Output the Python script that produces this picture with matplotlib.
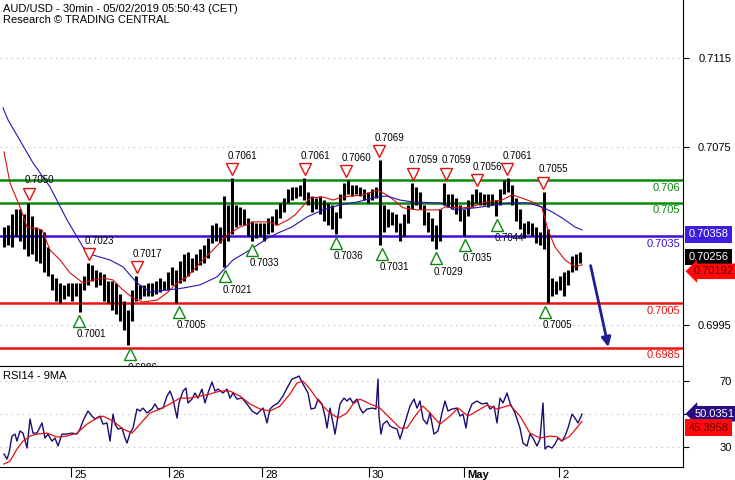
import matplotlib
matplotlib.use('Agg')
import matplotlib.pyplot as plt
import matplotlib.transforms as mtransforms
import numpy as np

plt.rcParams['font.family'] = ['Liberation Sans', 'DejaVu Sans']

# --- price bars (one bar drawn every hour, x in half-hour bar units)
bar_high = [
    0.7039, 0.7040, 0.7045, 0.7047, 0.7047, 0.7045, 0.7050, 0.7044, 0.7039, 0.7038,
    0.7037, 0.7030, 0.7018, 0.7016, 0.7014, 0.7013, 0.7014, 0.7014, 0.7014, 0.7014,
    0.7017, 0.7023, 0.7022, 0.7020, 0.7019, 0.7018, 0.7015, 0.7015, 0.7014, 0.7009,
    0.7006, 0.7002, 0.7011, 0.7017, 0.7013, 0.7013, 0.7014, 0.7014, 0.7015, 0.7016,
    0.7015, 0.7019, 0.7021, 0.7020, 0.7024, 0.7027, 0.7028, 0.7025, 0.7027, 0.7029,
    0.7031, 0.7034, 0.7040, 0.7041, 0.7039, 0.7053, 0.7049, 0.7061, 0.7049, 0.7048,
    0.7047, 0.7043, 0.7042, 0.7041, 0.7041, 0.7041, 0.7043, 0.7044, 0.7047, 0.7050,
    0.7052, 0.7056, 0.7057, 0.7057, 0.7058, 0.7061, 0.7055, 0.7053, 0.7052, 0.7053,
    0.7051, 0.7050, 0.7049, 0.7046, 0.7054, 0.7059, 0.7060, 0.7058, 0.7058, 0.7057,
    0.7056, 0.7055, 0.7056, 0.7057, 0.7069, 0.7049, 0.7047, 0.7046, 0.7045, 0.7041,
    0.7045, 0.7049, 0.7059, 0.7057, 0.7055, 0.7049, 0.7046, 0.7043, 0.7040, 0.7047,
    0.7059, 0.7054, 0.7054, 0.7052, 0.7049, 0.7047, 0.7051, 0.7054, 0.7056, 0.7055,
    0.7054, 0.7054, 0.7054, 0.7051, 0.7056, 0.7060, 0.7061, 0.7058, 0.7052, 0.7047,
    0.7041, 0.7042, 0.7041, 0.7039, 0.7037, 0.7055, 0.7038, 0.7016, 0.7015, 0.7017,
    0.7019, 0.7020, 0.7026, 0.7027, 0.7028]
bar_low = [
    0.7030, 0.7031, 0.7030, 0.7035, 0.7033, 0.7029, 0.7026, 0.7027, 0.7024, 0.7023,
    0.7019, 0.7017, 0.7011, 0.7006, 0.7005, 0.7007, 0.7008, 0.7006, 0.7008, 0.7001,
    0.7011, 0.7013, 0.7015, 0.7012, 0.7013, 0.7006, 0.7005, 0.7002, 0.7000, 0.6997,
    0.6993, 0.6986, 0.6997, 0.7006, 0.7007, 0.7008, 0.7008, 0.7008, 0.7009, 0.7010,
    0.7011, 0.7011, 0.7013, 0.7005, 0.7014, 0.7015, 0.7017, 0.7019, 0.7020, 0.7022,
    0.7023, 0.7025, 0.7032, 0.7033, 0.7032, 0.7021, 0.7033, 0.7036, 0.7039, 0.7040,
    0.7040, 0.7035, 0.7033, 0.7034, 0.7035, 0.7033, 0.7036, 0.7037, 0.7040, 0.7043,
    0.7046, 0.7050, 0.7051, 0.7052, 0.7053, 0.7051, 0.7049, 0.7046, 0.7047, 0.7045,
    0.7042, 0.7040, 0.7038, 0.7036, 0.7043, 0.7051, 0.7054, 0.7053, 0.7054, 0.7053,
    0.7051, 0.7050, 0.7051, 0.7052, 0.7031, 0.7037, 0.7039, 0.7040, 0.7037, 0.7033,
    0.7035, 0.7041, 0.7047, 0.7049, 0.7047, 0.7040, 0.7037, 0.7033, 0.7029, 0.7033,
    0.7049, 0.7048, 0.7047, 0.7045, 0.7042, 0.7035, 0.7044, 0.7048, 0.7050, 0.7049,
    0.7049, 0.7048, 0.7049, 0.7044, 0.7049, 0.7054, 0.7055, 0.7049, 0.7042, 0.7038,
    0.7034, 0.7036, 0.7035, 0.7032, 0.7031, 0.7029, 0.7005, 0.7008, 0.7009, 0.7011,
    0.7008, 0.7013, 0.7019, 0.7020, 0.7023]
bar_idx = np.arange(1, len(bar_high) + 1) * 2

# moving averages on price
ma_fast_t = [2, 5, 10, 13.5, 16.5, 21, 25, 30, 35, 41.5, 46.5, 51.5, 56.5, 61.5, 66.5,
             71.5, 78.5, 83.5, 88.5, 93.5, 100, 106.5, 113.5, 120, 127.5, 134, 139, 144,
             147.5, 155, 161.5, 166.5, 171.5, 181.5, 189, 195, 201.5, 208.5, 215, 220,
             222.5, 231, 236, 242.5, 251, 256, 261, 267.5, 271, 274, 277.5, 282.5, 287.5, 291]
ma_fast = [0.70728, 0.70589, 0.70481, 0.70391, 0.70387, 0.70378, 0.70288, 0.70243, 0.70185,
           0.70140, 0.70153, 0.70162, 0.70153, 0.70108, 0.70072, 0.70054, 0.70063, 0.70095,
           0.70140, 0.70167, 0.70230, 0.70288, 0.70355, 0.70391, 0.70414, 0.70414, 0.70400,
           0.70423, 0.70445, 0.70521, 0.70526, 0.70512, 0.70526, 0.70535, 0.70557, 0.70526,
           0.70477, 0.70468, 0.70468, 0.70468, 0.70481, 0.70477, 0.70481, 0.70503, 0.70512,
           0.70535, 0.70521, 0.70499, 0.70477, 0.70378, 0.70301, 0.70243, 0.70212, 0.70221]
ma_slow_t = [1.5, 4, 16.5, 25, 33.5, 41.5, 46.5, 55, 61.5, 68.5, 75, 83.5, 91.5, 100, 108.5,
             116.5, 125, 134, 139, 146, 153.5, 161.5, 170, 178.5, 188.5, 193.5, 200, 206.5,
             220, 227.5, 237.5, 247.5, 256, 264, 271, 276, 281, 287.5, 291]
ma_slow = [0.70926, 0.70872, 0.70679, 0.70571, 0.70423, 0.70301, 0.70265, 0.70243, 0.70212,
           0.70140, 0.70099, 0.70108, 0.70117, 0.70131, 0.70167, 0.70243, 0.70288, 0.70342,
           0.70364, 0.70391, 0.70436, 0.70468, 0.70490, 0.70503, 0.70526, 0.70530, 0.70512,
           0.70503, 0.70499, 0.70468, 0.70477, 0.70490, 0.70499, 0.70499, 0.70481, 0.70459,
           0.70432, 0.70391, 0.70378]

# support / resistance
levels = [0.706, 0.705, 0.7035, 0.7005, 0.6985]
level_labels = ['0.706', '0.705', '0.7035', '0.7005', '0.6985']
level_colors = ['#0a8a0a', '#0a8a0a', '#3d10d8', '#ee1111', '#ee1111']

# swing highs / lows
high_t = [14.5, 44.5, 68.5, 116, 152.5, 173, 189.5, 206.5, 223, 238.5, 253.5, 271.5]
high_v = [0.7050, 0.7023, 0.7017, 0.7061, 0.7061, 0.7060, 0.7069, 0.7059, 0.7059, 0.7056,
          0.7061, 0.7055]
low_t = [39.5, 65, 89.5, 112.5, 126, 168, 191, 218, 232.5, 248.5, 272.5]
low_v = [0.7001, 0.6986, 0.7005, 0.7021, 0.7033, 0.7036, 0.7031, 0.7029, 0.7035, 0.7044, 0.7005]

# projection
proj_from = (295, 0.7023)
proj_to = (304.5, 0.6984)

# RSI14 and its 9MA
rsi_t = [2, 3.5, 4.5, 6, 7.5, 8.5, 10, 11.5, 13.5, 15, 16.5, 18.5, 21, 22.5, 24, 26, 27.5,
         29, 31, 33.5, 36, 38.5, 40, 41.5, 44, 46, 47.5, 50, 51.5, 53.5, 55, 56.5, 57.5,
         59, 61, 62.5, 63.5, 65, 66.5, 68.5, 70, 71.5, 73.5, 76, 77.5, 79, 81.5, 83.5, 85,
         86.5, 88.5, 89.5, 91.5, 93, 94, 96, 97.5, 99, 101, 102.5, 104, 106, 107.5, 109,
         111.5, 113.5, 115, 116.5, 118.5, 121, 123.5, 126, 128.5, 130, 131.5, 133.5, 135,
         136.5, 139, 141.5, 143.5, 146, 148.5, 149.5, 151.5, 154, 155.5, 157.5, 159, 161,
         162.5, 163.5, 165, 166.5, 167.5, 169, 170, 172, 173.5, 175, 176.5, 178.5, 180,
         181.5, 183.5, 186, 188, 189, 189.5, 190.5, 191.5, 193.5, 195, 197, 198.5, 200,
         201.5, 203.5, 205, 207, 208.5, 210, 211.5, 213.5, 215, 217, 219, 221, 222.5, 224,
         226, 228.5, 230, 231.5, 233, 234, 236, 238.5, 241, 243.5, 245, 247, 248.5, 250,
         251.5, 253.5, 255, 257.5, 260, 261.5, 263.5, 265, 266.5, 268.5, 270, 271.5, 272.5,
         274, 276, 277.5, 279, 281, 282.5, 284, 286, 287.5, 289, 291]
rsi = [25.4, 22.4, 26, 36.4, 37.6, 33.3, 39.5, 38.2, 29.1, 46.8, 38.2, 38.2, 44.4, 35.2,
       37.6, 33.3, 35.2, 30.3, 37.6, 37.6, 38.2, 37.6, 40.7, 45.6, 51.7, 48.6, 46.8, 48.6,
       43.7, 44.4, 33.3, 49.8, 43.7, 40.7, 41.3, 35.2, 32.1, 38.2, 41.3, 52.9, 51.7, 53.5,
       50.5, 52.9, 56, 52.9, 53.5, 60.8, 63.9, 59, 47.4, 56.6, 63.9, 65.7, 56.6, 59, 62.7,
       59.6, 65.1, 56.6, 62.7, 69.4, 63.9, 65.1, 62.7, 65.1, 59.6, 62.7, 59, 59.6, 56, 51.7,
       49.8, 51.7, 53.5, 44.4, 52.9, 54.7, 56.6, 60.8, 65.7, 71.2, 72.4, 73.1, 68.2, 62.7,
       52.9, 53.5, 59, 56, 48.6, 41.3, 53.5, 44.4, 37.6, 48.6, 56, 59.6, 57.8, 59.6, 56.6,
       59, 53.5, 50.5, 52.9, 53.5, 52.9, 71.2, 48.6, 37.6, 43.7, 45.6, 42.5, 41.3, 40.7,
       34.6, 40.7, 48.6, 54.7, 59, 53.5, 57.8, 46.8, 43.7, 50.5, 37.6, 39.5, 50.5, 57.8,
       51.7, 52.9, 53.5, 48.6, 49.8, 41.3, 49.8, 56, 57.8, 56, 56.6, 52.9, 54.7, 44.4, 59.6,
       56.6, 62.7, 56.6, 50.5, 41.3, 32.1, 30.3, 37.6, 35.2, 30.3, 34.6, 56.6, 28.5, 30.3,
       29.1, 31.5, 35.2, 33.3, 36.4, 41.3, 49.8, 47.4, 44.4, 49.8]
rsi_ma_t = [2, 5, 8.5, 11.5, 15, 18.5, 23.5, 28.5, 33.5, 38.5, 43.5, 48.5, 51.5, 56.5, 61.5,
            66, 70, 75, 80, 85, 90, 95, 100, 105, 110, 115, 120, 125, 130, 135, 140, 145,
            148.5, 151.5, 155, 158.5, 161.5, 165, 169, 173.5, 176.5, 180, 185, 190, 195,
            200, 203.5, 207.5, 211.5, 215, 220, 225, 229, 234, 238.5, 243.5, 248.5, 255,
            260, 265, 270, 275, 278.5, 281, 285, 291]
rsi_ma = [19.3, 21.1, 28.5, 33.3, 36.4, 37.6, 38.2, 35.8, 36.4, 38.2, 43.7, 47.4, 48.6,
          45.6, 40.7, 38.2, 43.7, 50.5, 52.9, 56, 59.6, 59.6, 60.8, 62.1, 63.9, 63.9, 60.8,
          56, 52.9, 51.7, 54.7, 62.1, 68.8, 70, 65.1, 59, 54.7, 50.5, 47.4, 50.5, 56, 59,
          56, 53.5, 47.4, 41.3, 41.3, 48.6, 54.7, 50.5, 43.7, 48.6, 53.5, 48.6, 51.7, 55.3,
          52.9, 55.3, 48.6, 38.2, 35.2, 36.4, 36, 33.5, 36.4, 45.4]

day_t = [35.5, 84.5, 131, 184.5, 232, 279.5]
day_labels = ['25', '26', '28', '30', 'May', '2']

fig = plt.figure(figsize=(7.35, 4.8), dpi=100)
ax = fig.add_axes([0, 1 - 366 / 480, 683 / 735, 366 / 480])
rax = fig.add_axes([0, 1 - 467 / 480, 683 / 735, 101 / 480])

# ---------- main pane
ax.vlines(bar_idx, bar_low, bar_high, color='black', linewidth=2.2, zorder=3)
ax.plot(ma_fast_t, ma_fast, color='#d41010', lw=0.8, zorder=4)
ax.plot(ma_slow_t, ma_slow, color='#2a12b0', lw=0.8, zorder=4)

ytr = mtransforms.blended_transform_factory(ax.transAxes, ax.transData)
for lv, lb, c in zip(levels, level_labels, level_colors):
    ax.axhline(lv, color=c, lw=1.8, zorder=2)
    ax.annotate(lb, xy=(1, lv), xycoords=ytr, xytext=(-2, -5.5), textcoords='offset points',
                ha='right', va='center', fontsize=8, color=c)

up = ax.transData + mtransforms.ScaledTranslation(0, 0.09, fig.dpi_scale_trans)
dn = ax.transData + mtransforms.ScaledTranslation(0, -0.09, fig.dpi_scale_trans)
ax.plot(high_t, high_v, 'v', ms=8, mfc='white', mec='#e01010', mew=1, transform=up, zorder=5)
ax.plot(low_t, low_v, '^', ms=8, mfc='white', mec='#0a8a0a', mew=1, transform=dn, zorder=5)
for t, v in zip(high_t, high_v):
    ax.annotate(f'{v:.4f}', xy=(t, v), xytext=(-3.5, 16), textcoords='offset points',
                ha='left', va='center', fontsize=7, zorder=6)
for t, v in zip(low_t, low_v):
    txt = ax.annotate(f'{v:.4f}', xy=(t, v), xytext=(-2, -16), textcoords='offset points',
                      ha='left', va='center', fontsize=7, zorder=6)
    txt.set_clip_on(True)

ax.annotate('', xy=proj_to, xytext=proj_from,
            arrowprops=dict(arrowstyle='-|>', color='#1f1f8f', lw=2, mutation_scale=14))

ax.set_xlim(0, 341.5)
ax.set_ylim(0.69767, 0.71410)
ax.yaxis.tick_right()
ax.set_yticks([0.6995, 0.7075, 0.7115], ['0.6995', '0.7075', '0.7115'])
ax.tick_params(axis='y', direction='out', length=4, pad=31, labelsize=8)
for lbl in ax.get_yticklabels():
    lbl.set_ha('right')
ax.tick_params(axis='x', bottom=False, labelbottom=False)
ax.grid(axis='y', color='#b8b8b8', ls=(0, (1, 4)), lw=0.8)
for s in ['top', 'left']:
    ax.spines[s].set_visible(False)


def tag(a, y, text, fc, tc, arrow=False, dy=0):
    tr = mtransforms.blended_transform_factory(a.transAxes, a.transData)
    style = 'larrow,pad=0.25' if arrow else 'square,pad=0.3'
    a.annotate(text, xy=(1, y), xycoords=tr, xytext=(8 if arrow else 4, dy),
               textcoords='offset points', ha='left', va='center', fontsize=8, color=tc,
               bbox=dict(boxstyle=style, fc=fc, ec='none'), annotation_clip=False, zorder=10)


tag(ax, 0.70358, '0.70358', '#3d1ee0', 'white')
tag(ax, 0.70256, '0.70256', 'black', 'white')
tag(ax, 0.70192, '0.70192', '#ff0a0a', '#5a0000', arrow=True)

fig.text(3 / 735, 1 - 9 / 480, 'AUD/USD - 30min - 05/02/2019 05:50:43 (CET)', fontsize=8, va='center')
fig.text(3 / 735, 1 - 20 / 480, 'Research \u00a9 TRADING CENTRAL', fontsize=8, va='center')

# ---------- RSI pane
rax.plot(rsi_t, rsi, color='#1c0c70', lw=1)
rax.plot(rsi_ma_t, rsi_ma, color='#e01010', lw=0.9)
rax.set_xlim(0, 341.5)
rax.set_ylim(17.5, 79.2)
rax.yaxis.tick_right()
rax.set_yticks([30, 50, 70], ['30', '', '70'])
rax.tick_params(axis='y', direction='out', length=4, pad=31, labelsize=8)
for lbl in rax.get_yticklabels():
    lbl.set_ha('right')
rax.grid(axis='y', color='#b8b8b8', ls=(0, (1, 4)), lw=0.8)
rax.spines['left'].set_visible(False)
rax.set_xticks(day_t, day_labels)
rax.tick_params(axis='x', direction='out', length=7, pad=-5, labelsize=8)
shift = mtransforms.ScaledTranslation(3 / 100, 0, fig.dpi_scale_trans)
for lbl in rax.get_xticklabels():
    lbl.set_ha('left')
    lbl.set_transform(lbl.get_transform() + shift)
rax.get_xticklabels()[4].set_fontweight('bold')
rax.text(0.004, 0.9, 'RSI14 - 9MA', transform=rax.transAxes, fontsize=8, va='center')

tag(rax, 50.0351, '50.0351', '#2a0c82', 'white', arrow=True)
tag(rax, 45.3958, '45.3958', '#ff0a0a', '#6a0000', dy=-4.5)

fig.savefig('out.png', dpi=100)
